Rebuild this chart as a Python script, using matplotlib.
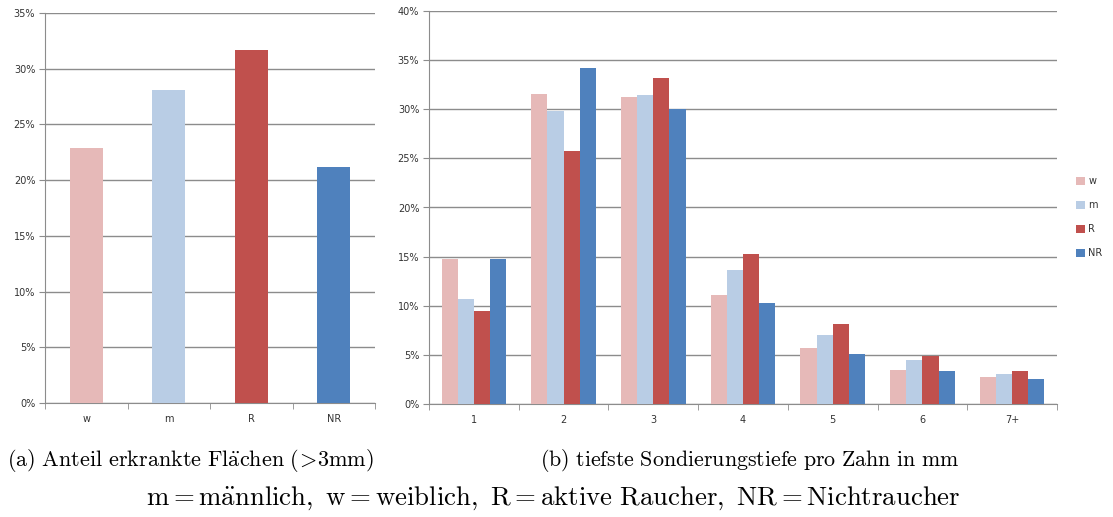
import matplotlib
matplotlib.use("Agg")
import matplotlib.pyplot as plt
import numpy as np
from matplotlib.ticker import PercentFormatter, FixedLocator

# ---- data ----
groups_a = ["w", "m", "R", "NR"]
values_a = [22.9, 28.1, 31.7, 21.2]

depths = ["1", "2", "3", "4", "5", "6", "7+"]
series_names = ["w", "m", "R", "NR"]
w_vals = [14.8, 31.6, 31.2, 11.1, 5.7, 3.5, 2.75]
m_vals = [10.7, 29.8, 31.5, 13.6, 7.0, 4.5, 3.05]
r_vals = [9.5, 25.8, 33.2, 15.3, 8.1, 4.9, 3.35]
nr_vals = [14.8, 34.2, 30.0, 10.3, 5.1, 3.35, 2.55]

colors = ["#E6B9B8", "#B9CDE5", "#C0504D", "#4F81BD"]

caption_a = r"$\mathrm{(a)\ Anteil\ erkrankte\ Fl\ddot{a}chen\ (\!>\!3mm)}$"
caption_b = r"$\mathrm{(b)\ tiefste\ Sondierungstiefe\ pro\ Zahn\ in\ mm}$"
caption_main = r"$\mathrm{m = m\ddot{a}nnlich,\ w = weiblich,\ R = aktive\ Raucher,\ NR = Nichtraucher}$"

plt.rcParams["mathtext.fontset"] = "cm"

fig = plt.figure(figsize=(11.13, 5.17), dpi=100)

grid_c = "#8c8c8c"
spine_c = "#8c8c8c"
tick_fs = 7
tick_col = "#333333"

def style(ax, n, ymax):
    for s in ["top", "right"]:
        ax.spines[s].set_visible(False)
    ax.spines["left"].set_color(spine_c)
    ax.spines["bottom"].set_color(spine_c)
    ax.set_axisbelow(True)
    ax.yaxis.grid(True, color=grid_c, linewidth=1.0)
    ax.set_xlim(-0.5, n - 0.5)
    ax.set_ylim(0, ymax)
    ax.set_yticks(np.arange(0, ymax + 0.01, 5))
    ax.yaxis.set_major_formatter(PercentFormatter(decimals=0))
    ax.tick_params(axis="y", length=4, color=spine_c, labelsize=tick_fs, pad=3, labelcolor=tick_col)
    ax.tick_params(axis="x", which="major", length=0, labelsize=tick_fs, pad=8, labelcolor=tick_col)
    ax.xaxis.set_minor_locator(FixedLocator(np.arange(-0.5, n, 1.0)))
    ax.tick_params(axis="x", which="minor", length=4, color=spine_c)

# ---- left chart ----
axa = fig.add_axes([45/1113, 1-403/517, 330/1113, 390/517])
xa = np.arange(len(groups_a))
axa.bar(xa, values_a, width=0.4, color=colors, zorder=3)
style(axa, len(groups_a), 35)
axa.set_xticks(xa)
axa.set_xticklabels(groups_a)

# ---- right chart ----
axb = fig.add_axes([429/1113, 1-404/517, 628/1113, 393/517])
xb = np.arange(len(depths))
bw = 0.18
all_series = [w_vals, m_vals, r_vals, nr_vals]
for i, (name, vals) in enumerate(zip(series_names, all_series)):
    axb.bar(xb + (i - 1.5) * bw, vals, width=bw, color=colors[i], label=name, zorder=3)
style(axb, len(depths), 40)
axb.set_xticks(xb)
axb.set_xticklabels(depths)
leg = axb.legend(loc="center left", bbox_to_anchor=(1.0, 0.475), frameon=False,
                 fontsize=7, handlelength=0.9, handleheight=0.9, labelspacing=1.45,
                 handletextpad=0.3, borderaxespad=1.6)
for t in leg.get_texts():
    t.set_color(tick_col)

# ---- captions ----
fig.text(190/1113, 1-461/517, caption_a, ha="center", va="center", fontsize=16)
fig.text(750/1113, 1-461/517, caption_b, ha="center", va="center", fontsize=15.8)
fig.text(553/1113, 1-498/517, caption_main, ha="center", va="center", fontsize=19.3)

fig.savefig("out.png", dpi=100)
